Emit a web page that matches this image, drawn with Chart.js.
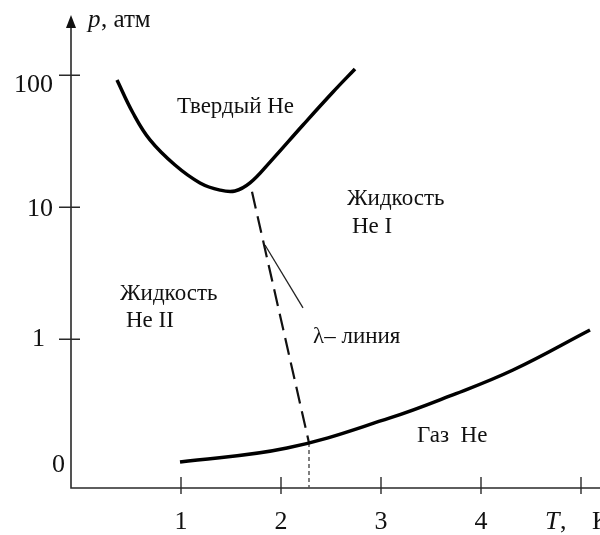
<!DOCTYPE html>
<html lang="ru">
<head>
<meta charset="utf-8">
<title>Фазовая диаграмма He</title>
<script src="https://cdn.jsdelivr.net/npm/chart.js@4/dist/chart.umd.min.js"></script>
<style>
  html, body { margin: 0; padding: 0; background: #fff; }
  #wrap { width: 600px; height: 535px; }
</style>
</head>
<body>
<div id="wrap"><canvas id="phaseChart" width="600" height="535"></canvas></div>
<script>
// Кривая плавления (граница твердого He), T в K, p в атм
const meltT = [0.36, 0.52, 0.69, 0.94, 1.19, 1.39, 1.54, 1.69, 1.89, 2.22, 2.52, 2.74];
const meltP = [92.1, 51.8, 32.4, 20.9, 15.3, 13.5, 13.3, 15.3, 22.0, 42.0, 74.7, 111.7];

// λ-линия (граница He I / He II)
const lambdaT = [1.71, 2.28];
const lambdaP = [13.1, 0.164];

// Кривая насыщенного пара
const vaporT = [0.99, 2.06, 3.09, 3.69, 4.32, 5.09];
const vaporP = [0.1175, 0.150, 0.2535, 0.372, 0.585, 1.176];

// Выноска от подписи к λ-линии
const leaderT = [1.84, 2.22];
const leaderP = [5.18, 1.73];

// Деления осей
const xTicks = [1, 2, 3, 4, 5];
const xTickLabels = ['1', '2', '3', '4', ''];
const yTicks = [0.1, 1, 10, 100];
const yTickLabels = ['0', '1', '10', '100'];

const X_MIN = -0.10, X_MAX = 5.19;
const Y_MIN = 0.0747, Y_MAX = 286.3;

// Пунктир от λ-точки вниз к оси T
const dropT = [lambdaT[1], lambdaT[1]];
const dropP = [lambdaP[1], Y_MIN];

const toPoints = (xs, ys) => xs.map((t, i) => ({ x: t, y: ys[i] }));

const SERIF = '"Liberation Serif", "Times New Roman", serif';

// Подписи областей: левый край и базовая линия в координатах (T, p)
const regionLabels = [
    { text: 'Твердый He', T: 0.96, p: 51.8 },
    { text: 'Жидкость', T: 2.66, p: 10.4 },
    { text: 'He I', T: 2.71, p: 6.38 },
    { text: 'Жидкость', T: 0.39, p: 1.99 },
    { text: 'He II', T: 0.45, p: 1.24 },
    { text: 'λ– линия', T: 2.32, p: 0.937 },
    { text: 'Газ  He', T: 3.36, p: 0.167 }
];

const phaseAxes = {
    id: 'phaseAxes',
    beforeDatasetsDraw(chart) {
        const { ctx, chartArea: a, scales: { x, y } } = chart;
        ctx.save();
        ctx.strokeStyle = '#2a2a2a';
        ctx.lineWidth = 1.6;

        // оси
        ctx.beginPath();
        ctx.moveTo(a.left, a.top + 10);
        ctx.lineTo(a.left, a.bottom);
        ctx.lineTo(a.right, a.bottom);
        ctx.stroke();

        // стрелка оси p
        ctx.fillStyle = '#111';
        ctx.beginPath();
        ctx.moveTo(a.left, a.top);
        ctx.lineTo(a.left - 5, a.top + 13);
        ctx.lineTo(a.left + 5, a.top + 13);
        ctx.closePath();
        ctx.fill();

        // риски на осях (у нуля риски нет)
        ctx.lineWidth = 1.4;
        ctx.beginPath();
        yTicks.forEach((v, i) => {
            if (i === 0) return;
            const py = y.getPixelForValue(v);
            ctx.moveTo(a.left - 12, py);
            ctx.lineTo(a.left + 9, py);
        });
        xTicks.forEach(v => {
            const px = x.getPixelForValue(v);
            ctx.moveTo(px, a.bottom - 11);
            ctx.lineTo(px, a.bottom + 6);
        });
        ctx.stroke();
        ctx.restore();
    },
    afterDraw(chart) {
        const { ctx, chartArea: a, scales: { x, y } } = chart;
        ctx.save();
        ctx.fillStyle = '#111';

        // подписи делений
        ctx.font = '26px ' + SERIF;
        ctx.textBaseline = 'middle';
        ctx.textAlign = 'right';
        const yShift = [[-6, -6], [-26, 0], [-18, 2], [-18, 10]];
        yTicks.forEach((v, i) => {
            ctx.fillText(yTickLabels[i], a.left + yShift[i][0], y.getPixelForValue(v) + yShift[i][1]);
        });
        ctx.textAlign = 'center';
        xTicks.forEach((v, i) => {
            if (xTickLabels[i]) ctx.fillText(xTickLabels[i], x.getPixelForValue(v), a.bottom + 34);
        });

        // названия осей
        ctx.textAlign = 'left';
        ctx.textBaseline = 'alphabetic';
        ctx.font = 'italic 26px ' + SERIF;
        ctx.fillText('T', a.right - 55, a.bottom + 41);
        ctx.font = '26px ' + SERIF;
        ctx.fillText(',', a.right - 40, a.bottom + 41);
        ctx.fillText('K', a.right - 8, a.bottom + 41);

        ctx.font = 'italic 25px ' + SERIF;
        ctx.fillText('p', a.left + 17, a.top + 12);
        ctx.font = '25px ' + SERIF;
        ctx.fillText(', атм', a.left + 30, a.top + 12);

        // подписи областей
        ctx.font = '23px ' + SERIF;
        regionLabels.forEach(l => {
            ctx.fillText(l.text, x.getPixelForValue(l.T), y.getPixelForValue(l.p));
        });
        ctx.restore();
    }
};

new Chart(document.getElementById('phaseChart'), {
    type: 'line',
    data: {
        datasets: [
            {
                label: 'Плавление',
                data: toPoints(meltT, meltP),
                borderColor: '#000',
                borderWidth: 3.5,
                tension: 0.4
            },
            {
                label: 'Пар',
                data: toPoints(vaporT, vaporP),
                borderColor: '#000',
                borderWidth: 3.5,
                tension: 0.4
            },
            {
                label: 'λ-линия',
                data: toPoints(lambdaT, lambdaP),
                borderColor: '#111',
                borderWidth: 2.2,
                borderDash: [17, 8]
            },
            {
                label: 'Выноска',
                data: toPoints(leaderT, leaderP),
                borderColor: '#222',
                borderWidth: 1.3
            },
            {
                label: 'Опуск',
                data: toPoints(dropT, dropP),
                borderColor: '#555',
                borderWidth: 1.5,
                borderDash: [4, 3]
            }
        ]
    },
    options: {
        responsive: false,
        devicePixelRatio: 1,
        animation: false,
        events: [],
        elements: { point: { radius: 0 } },
        layout: { padding: { left: 71, top: 15, right: 0, bottom: 47 } },
        plugins: { legend: { display: false }, tooltip: { enabled: false } },
        scales: {
            x: { type: 'linear', display: false, min: X_MIN, max: X_MAX, bounds: 'data' },
            y: { type: 'logarithmic', display: false, min: Y_MIN, max: Y_MAX, bounds: 'data' }
        }
    },
    plugins: [phaseAxes]
});
</script>
</body>
</html>
